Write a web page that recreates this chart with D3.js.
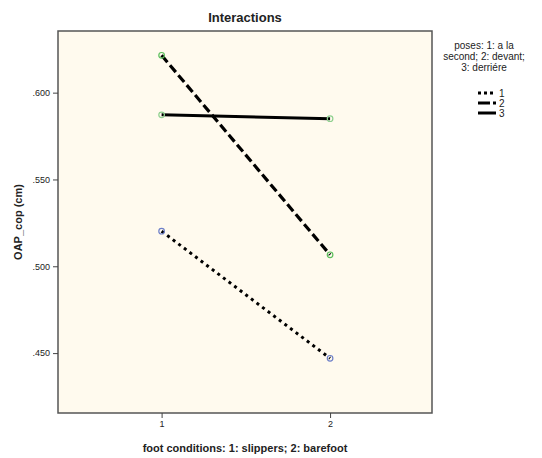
<!DOCTYPE html>
<html>
<head>
<meta charset="utf-8">
<script src="https://cdn.jsdelivr.net/npm/d3@7"></script>
<style>
  body { margin: 0; background: #fff; }
  text { font-family: "Liberation Sans", Arial, sans-serif; fill: #222; }
  .bold { font-weight: bold; }
</style>
</head>
<body>
<div id="chart"></div>
<script>
// chart data
const footConditions = [1, 2]
const poses = ['1', '2', '3']
const pose1 = [0.5202, 0.4470]
const pose2 = [0.6215, 0.5066]
const pose3 = [0.5872, 0.5850]
const yTicks = [0.45, 0.50, 0.55, 0.60]

const width = 542
const height = 458
const margin = {top: 31, right: 110, bottom: 45, left: 58}

const svg = d3.select('#chart').append('svg')
  .attr('width', width)
  .attr('height', height)

const xScale = d3.scaleLinear()
  .domain([0.385, 2.605])
  .range([margin.left, width - margin.right])

const yScale = d3.scaleLinear()
  .domain([0.4155, 0.6355])
  .range([height - margin.bottom, margin.top])

// plot background
svg.append('rect')
  .attr('x', margin.left)
  .attr('y', margin.top)
  .attr('width', width - margin.right - margin.left)
  .attr('height', height - margin.bottom - margin.top)
  .attr('fill', '#fffaee')
  .attr('stroke', '#555')
  .attr('stroke-width', 1.5)

const yAxis = g => g
  .attr('transform', `translate(${margin.left},0)`)
  .call(d3.axisLeft(yScale).tickValues(yTicks).tickSize(5).tickFormat(d => d3.format('.3f')(d).replace(/^0/, '')))

const xAxis = g => g
  .attr('transform', `translate(0,${height - margin.bottom})`)
  .call(d3.axisBottom(xScale).tickValues(footConditions).tickSize(5).tickFormat(d3.format('d')))

svg.append('g').call(yAxis)
svg.append('g').call(xAxis)

svg.selectAll('.domain').remove()
svg.selectAll('.tick line').attr('stroke', '#444')
svg.selectAll('.tick text').attr('font-size', 9).attr('fill', '#333')
  .style('font-family', '"Liberation Sans", Arial, sans-serif')

const series = [
  { name: poses[0], values: pose1, dash: '3,4', width: 3, marker: '#6d7fc8' },
  { name: poses[1], values: pose2, dash: '9,4', width: 3.2, marker: '#5cbf5c' },
  { name: poses[2], values: pose3, dash: null, width: 3, marker: '#8fd08f' }
]

const line = d3.line()
  .x((d, i) => xScale(footConditions[i]))
  .y(d => yScale(d))

series.forEach(s => {
  svg.append('path')
    .attr('d', line(s.values))
    .attr('fill', 'none')
    .attr('stroke', '#000')
    .attr('stroke-width', s.width)
    .attr('stroke-dasharray', s.dash)

  svg.selectAll(null)
    .data(s.values)
    .join('circle')
    .attr('cx', (d, i) => xScale(footConditions[i]))
    .attr('cy', d => yScale(d))
    .attr('r', 2.8)
    .attr('fill', 'none')
    .attr('stroke', s.marker)
    .attr('stroke-width', 1.2)
})

// title and axis labels
svg.append('text')
  .attr('class', 'bold')
  .attr('x', (margin.left + width - margin.right) / 2)
  .attr('y', 22)
  .attr('text-anchor', 'middle')
  .attr('font-size', 13)
  .text('Interactions')

svg.append('text')
  .attr('class', 'bold')
  .attr('transform', `translate(22,${(margin.top + height - margin.bottom) / 2}) rotate(-90)`)
  .attr('text-anchor', 'middle')
  .attr('font-size', 11)
  .text('OAP_cop (cm)')

svg.append('text')
  .attr('class', 'bold')
  .attr('x', (margin.left + width - margin.right) / 2)
  .attr('y', 452)
  .attr('text-anchor', 'middle')
  .attr('font-size', 11)
  .text('foot conditions: 1: slippers; 2: barefoot')

// legend
const legendTitle = ['poses: 1: a la', 'second; 2: devant;', '3: derriére']
svg.append('g')
  .selectAll('text')
  .data(legendTitle)
  .join('text')
  .attr('x', 484)
  .attr('y', (d, i) => 49 + i * 11)
  .attr('text-anchor', 'middle')
  .attr('font-size', 10)
  .text(d => d)

series.forEach((s, i) => {
  const y = 93 + i * 10
  svg.append('line')
    .attr('x1', 478).attr('x2', 496)
    .attr('y1', y).attr('y2', y)
    .attr('stroke', '#000')
    .attr('stroke-width', s.width)
    .attr('stroke-dasharray', s.dash === null ? null : (i === 0 ? '3,3' : '12,3'))
  svg.append('text')
    .attr('x', 499)
    .attr('y', y + 4)
    .attr('font-size', 10)
    .attr('fill', '#222')
    .text(s.name)
})
</script>
</body>
</html>
